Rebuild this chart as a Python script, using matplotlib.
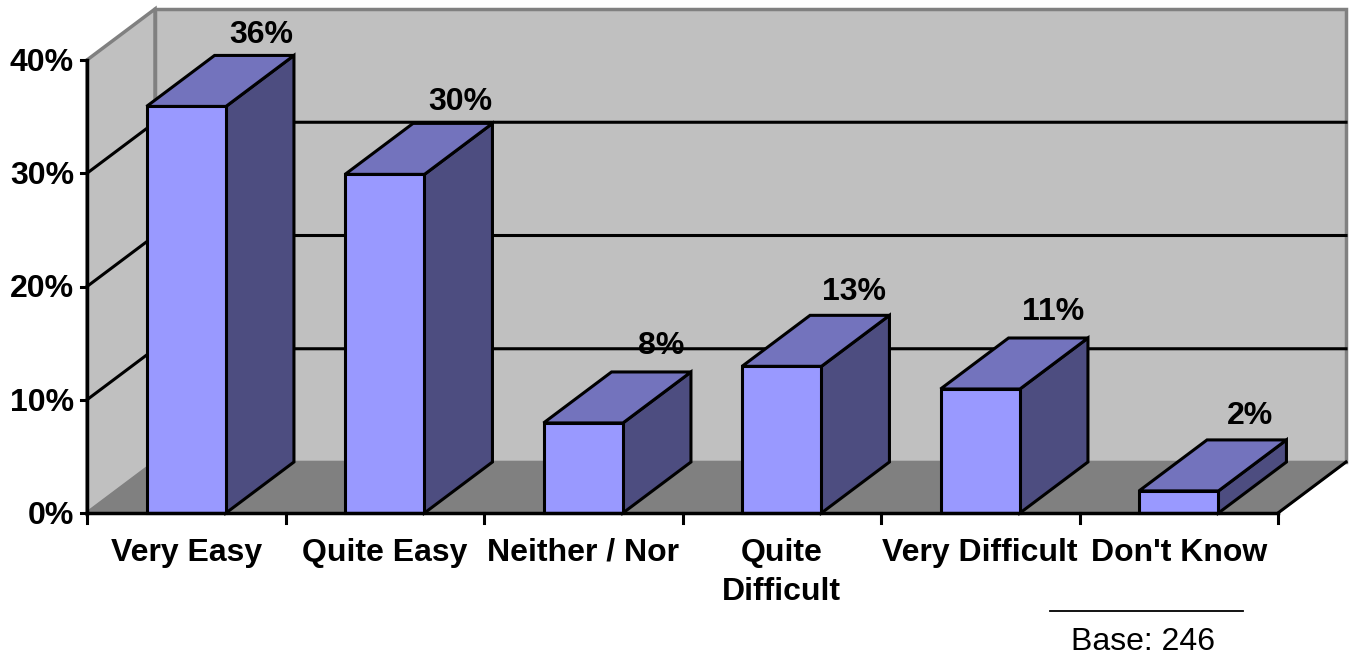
import matplotlib
matplotlib.use('Agg')
from matplotlib import pyplot as plt
from matplotlib.patches import Polygon

categories = ['Very Easy', 'Quite Easy', 'Neither / Nor', 'Quite\nDifficult', 'Very Difficult', "Don't Know"]
values = [35.9, 29.9, 7.95, 12.95, 10.95, 1.95]
value_labels = ['36%', '30%', '8%', '13%', '11%', '2%']
y_ticks = [0, 10, 20, 30, 40]
y_labels = ['0%', '10%', '20%', '30%', '40%']

plt.rcParams['font.family'] = ['Liberation Sans', 'DejaVu Sans']

W, H = 1352, 657
fig = plt.figure(figsize=(W / 100, H / 100), dpi=100)
ax = fig.add_axes([87 / W, (H - 513) / H, 1191 / W, 453 / H])
ax.set_xlim(0, 6)
ax.set_ylim(0, 40)
ax.axis('off')

# depth of the fake 3d box, in data units
dx = 68 / 198.5
dy = 51 / 11.325
bar_l = 0.3
bar_w = 0.4

wall = '#c0c0c0'
floor = '#808080'
edge = '#808080'
front = '#9999ff'
top = '#7373bd'
side = '#4d4d80'

# nudge of each value label off its bar, in data units
label_gap = [0.5, 0.55, 0.95, 0.72, 0.95, 0.75]
label_dx = [0.015, 0.018, 0.028, 0.0, 0.005, -0.005]


def poly(pts, fc, ec='black', lw=2.2, z=1):
    ax.add_patch(Polygon(pts, closed=True, fc=fc, ec=ec, lw=lw, zorder=z, clip_on=False, joinstyle='miter'))


# walls and floor
poly([(dx, dy), (6 + dx, dy), (6 + dx, 40 + dy), (dx, 40 + dy)], wall, edge, 2.5)
poly([(0, 0), (dx, dy), (dx, 40 + dy), (0, 40)], wall, edge, 2.5)
poly([(0, 0), (6, 0), (6 + dx, dy), (dx, dy)], floor, edge, 1.5, z=1.5)
ax.plot([6, 6 + dx], [0, dy], color='black', lw=2.2, zorder=2, clip_on=False)

# gridlines
for t in y_ticks[1:-1]:
    ax.plot([0, dx, 6 + dx], [t, t + dy, t + dy], color='black', lw=2.2, zorder=2, clip_on=False)

# axes lines and ticks
ax.plot([0, 0], [0, 40], color='black', lw=2.5, zorder=3, clip_on=False)
ax.plot([0, 6], [0, 0], color='black', lw=2.5, zorder=7, clip_on=False)
for t, lab in zip(y_ticks, y_labels):
    ax.plot([-0.03, 0], [t, t], color='black', lw=2.2, zorder=3, clip_on=False)
    ax.text(-0.065, t - 0.25, lab, ha='right', va='center', fontsize=23, fontweight='bold')
for i in range(7):
    ax.plot([i, i], [0, -0.85], color='black', lw=2.2, zorder=3, clip_on=False)

# bars
for i, v in enumerate(values):
    x0 = i + bar_l
    x1 = x0 + bar_w
    z = 4 + i * 0.1
    poly([(x1, 0), (x1 + dx, dy), (x1 + dx, v + dy), (x1, v)], side, z=z)
    poly([(x0, v), (x1, v), (x1 + dx, v + dy), (x0 + dx, v + dy)], top, z=z)
    poly([(x0, 0), (x1, 0), (x1, v), (x0, v)], front, z=z)
    ax.text(x1 + dx - 0.18 + label_dx[i], v + dy + label_gap[i], value_labels[i], ha='center', va='bottom',
            fontsize=23, fontweight='bold', zorder=8)

# category labels
for i, c in enumerate(categories):
    ax.text(i + 0.5, -2.18, c, ha='center', va='top', fontsize=23, fontweight='bold', linespacing=1.4)

# base note
fig.add_artist(plt.Line2D([1050 / W, 1243 / W], [(H - 611) / H] * 2, color='black', lw=1.3))
fig.text(1143 / W, (H - 642) / H, 'Base: 246', ha='center', va='center', fontsize=23)

fig.savefig('out.png', dpi=100)
